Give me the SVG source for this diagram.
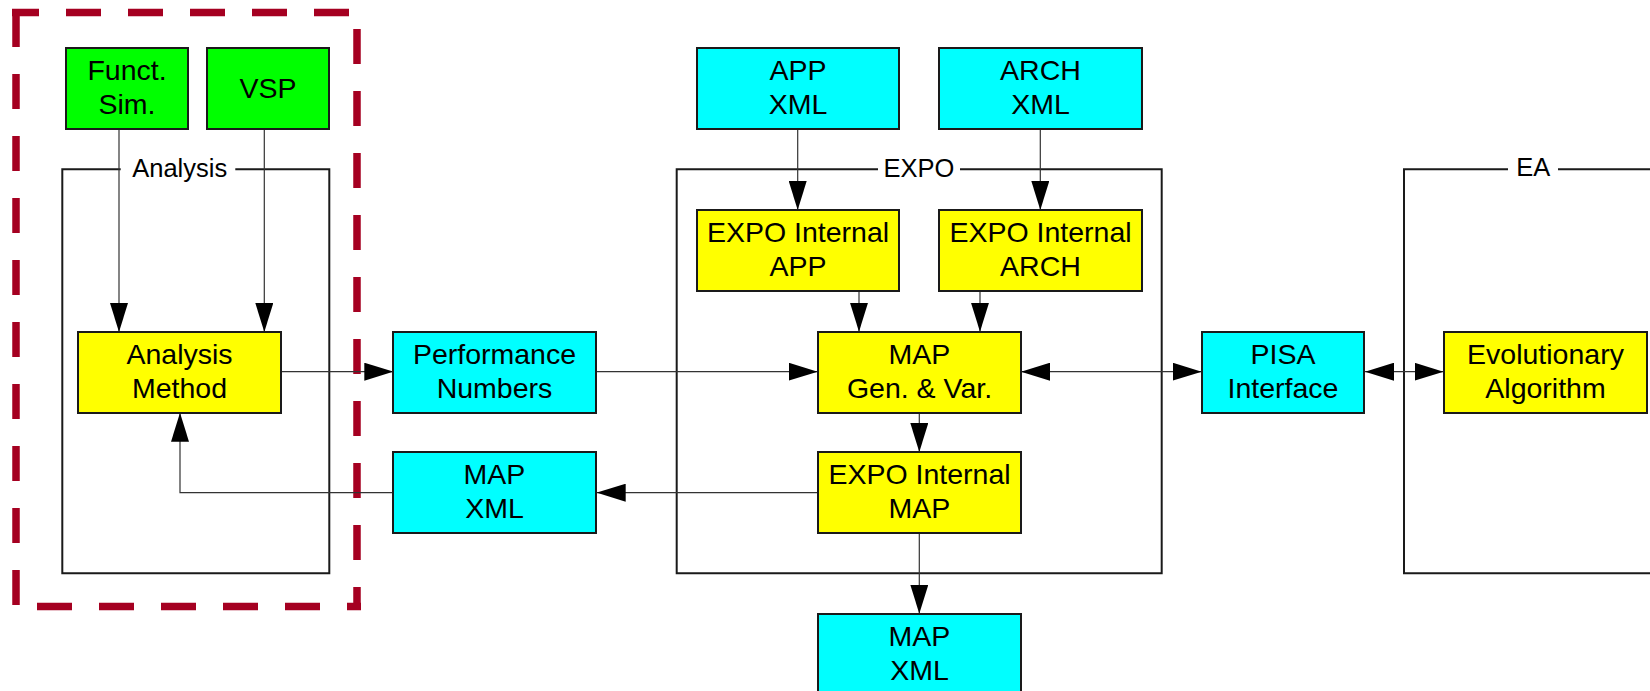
<svg xmlns="http://www.w3.org/2000/svg" width="1650" height="691" viewBox="0 0 1650 691">
  <style>
    .node rect { stroke: #1a1a1a; stroke-width: 2; }
    .green { fill: #00ff00; }
    .cyan { fill: #00ffff; }
    .yellow { fill: #ffff00; }
    .node text { font-family: "Liberation Sans", Arial, sans-serif; font-size: 28.5px; fill: #000; text-anchor: middle; }
    .frame { fill: none; stroke: #1a1a1a; stroke-width: 2; }
    .frame-label { font-family: "Liberation Sans", Arial, sans-serif; font-size: 25.5px; fill: #000; text-anchor: middle; }
    .edge { fill: none; stroke: #333; stroke-width: 1.2; }
    .dash { stroke: #a50021; stroke-width: 7.5; stroke-dasharray: 35 27; fill: none; }
  </style>
  <defs>
    <marker id="arrow" markerUnits="userSpaceOnUse" markerWidth="29" markerHeight="18" refX="29" refY="9" orient="auto-start-reverse">
      <path d="M0,0 L29,9 L0,18 z" fill="#000"/>
    </marker>
  </defs>

  <rect width="1650" height="691" fill="#fff"/>

  <!-- dashed boundary around the analysis part -->
  <g id="analysis-boundary">
    <line class="dash" x1="12" y1="12.5" x2="360" y2="12.5" stroke-dashoffset="8"/>
    <line class="dash" x1="16" y1="12" x2="16" y2="610"/>
    <line class="dash" x1="37" y1="606.5" x2="361" y2="606.5"/>
    <line class="dash" x1="357" y1="29" x2="357" y2="610"/>
  </g>

  <!-- container frames -->
  <g id="frame-analysis">
    <path class="frame" d="M120.7 169.3 H62.3 V573.3 H329.3 V169.3 H235.3"/>
    <text class="frame-label" x="179.7" y="176.5">Analysis</text>
  </g>
  <g id="frame-expo">
    <path class="frame" d="M878 169.3 H676.7 V573.3 H1161.7 V169.3 H960"/>
    <text class="frame-label" x="919" y="176.7">EXPO</text>
  </g>
  <g id="frame-ea">
    <path class="frame" d="M1508 169.3 H1404 V573.3 H1660 M1558 169.3 H1660"/>
    <text class="frame-label" x="1533.3" y="176.2">EA</text>
  </g>

  <!-- connectors -->
  <g id="connectors">
    <path class="edge" d="M119 129 V332" marker-end="url(#arrow)"/>
    <path class="edge" d="M264.3 129 V332" marker-end="url(#arrow)"/>
    <path class="edge" d="M280.7 371.7 H393.3" marker-end="url(#arrow)"/>
    <path class="edge" d="M393.3 492.7 H180 V412.7" marker-end="url(#arrow)"/>
    <path class="edge" d="M596 371.7 H817.7" marker-end="url(#arrow)"/>
    <path class="edge" d="M817.7 492.7 H596.7" marker-end="url(#arrow)"/>
    <path class="edge" d="M797.7 129 V210" marker-end="url(#arrow)"/>
    <path class="edge" d="M1040.3 129 V210" marker-end="url(#arrow)"/>
    <path class="edge" d="M859 290.7 V331.7" marker-end="url(#arrow)"/>
    <path class="edge" d="M980 290.7 V331.7" marker-end="url(#arrow)"/>
    <path class="edge" d="M919.3 412.7 V452" marker-end="url(#arrow)"/>
    <path class="edge" d="M919.3 533.3 V613.7" marker-end="url(#arrow)"/>
    <path class="edge" d="M1021 371.7 H1201.7" marker-start="url(#arrow)" marker-end="url(#arrow)"/>
    <path class="edge" d="M1365 371.7 H1443.5" marker-start="url(#arrow)" marker-end="url(#arrow)"/>
  </g>

  <!-- nodes -->
  <g id="funct-sim" class="node">
    <rect class="green" x="66" y="48" width="122" height="81"/>
    <text x="127" y="79.5">Funct.</text>
    <text x="127" y="114">Sim.</text>
  </g>
  <g id="vsp" class="node">
    <rect class="green" x="207" y="48" width="122" height="81"/>
    <text x="268" y="97.5">VSP</text>
  </g>
  <g id="analysis-method" class="node">
    <rect class="yellow" x="78" y="332" width="203" height="81"/>
    <text x="179.5" y="363.5">Analysis</text>
    <text x="179.5" y="398">Method</text>
  </g>
  <g id="performance-numbers" class="node">
    <rect class="cyan" x="393" y="332" width="203" height="81"/>
    <text x="494.5" y="363.5">Performance</text>
    <text x="494.5" y="398">Numbers</text>
  </g>
  <g id="map-xml-feedback" class="node">
    <rect class="cyan" x="393" y="452" width="203" height="81"/>
    <text x="494.5" y="483.5">MAP</text>
    <text x="494.5" y="518">XML</text>
  </g>
  <g id="app-xml" class="node">
    <rect class="cyan" x="697" y="48" width="202" height="81"/>
    <text x="798" y="79.5">APP</text>
    <text x="798" y="114">XML</text>
  </g>
  <g id="arch-xml" class="node">
    <rect class="cyan" x="939" y="48" width="203" height="81"/>
    <text x="1040.5" y="79.5">ARCH</text>
    <text x="1040.5" y="114">XML</text>
  </g>
  <g id="expo-internal-app" class="node">
    <rect class="yellow" x="697" y="210" width="202" height="81"/>
    <text x="798" y="241.5">EXPO Internal</text>
    <text x="798" y="276">APP</text>
  </g>
  <g id="expo-internal-arch" class="node">
    <rect class="yellow" x="939" y="210" width="203" height="81"/>
    <text x="1040.5" y="241.5">EXPO Internal</text>
    <text x="1040.5" y="276">ARCH</text>
  </g>
  <g id="map-gen-var" class="node">
    <rect class="yellow" x="818" y="332" width="203" height="81"/>
    <text x="919.5" y="363.5">MAP</text>
    <text x="919.5" y="398">Gen. &amp; Var.</text>
  </g>
  <g id="expo-internal-map" class="node">
    <rect class="yellow" x="818" y="452" width="203" height="81"/>
    <text x="919.5" y="483.5">EXPO Internal</text>
    <text x="919.5" y="518">MAP</text>
  </g>
  <g id="map-xml-out" class="node">
    <rect class="cyan" x="818" y="614" width="203" height="81"/>
    <text x="919.5" y="645.5">MAP</text>
    <text x="919.5" y="680">XML</text>
  </g>
  <g id="pisa-interface" class="node">
    <rect class="cyan" x="1202" y="332" width="162" height="81"/>
    <text x="1283" y="363.5">PISA</text>
    <text x="1283" y="398">Interface</text>
  </g>
  <g id="evolutionary-algorithm" class="node">
    <rect class="yellow" x="1444" y="332" width="203" height="81"/>
    <text x="1545.5" y="363.5">Evolutionary</text>
    <text x="1545.5" y="398">Algorithm</text>
  </g>
</svg>
